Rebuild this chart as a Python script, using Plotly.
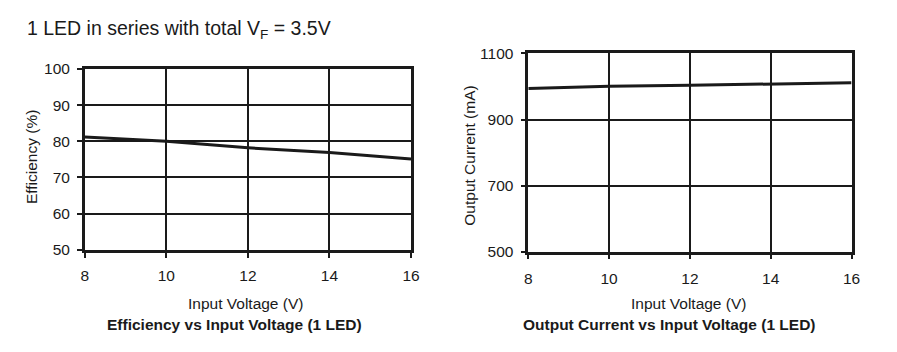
import plotly.graph_objects as go

voltage = [8, 10, 12, 14, 16]
efficiency = [81.2, 80.0, 78.2, 76.9, 75.1]
current = [994, 1001, 1004, 1007, 1011]

W, H = 897, 352
FONT = "Liberation Sans, Arial, sans-serif"
INK = "#1a1a1a"

def px(x):
    return x / W

def py(y):
    return 1 - y / H

fig = go.Figure()
fig.add_trace(go.Scatter(x=voltage, y=efficiency, mode="lines",
                         line=dict(color=INK, width=3), xaxis="x", yaxis="y",
                         showlegend=False, hoverinfo="skip"))
fig.add_trace(go.Scatter(x=voltage, y=current, mode="lines",
                         line=dict(color=INK, width=3), xaxis="x2", yaxis="y2",
                         showlegend=False, hoverinfo="skip"))

common = dict(showline=True, linecolor=INK, linewidth=2.5, mirror=True,
              showgrid=True, gridcolor=INK, ticks="outside", ticklen=5,
              tickwidth=1.5, tickcolor=INK, zeroline=False,
              tickfont=dict(family=FONT, size=15.5, color=INK))

fig.update_layout(
    width=W, height=H,
    margin=dict(l=0, r=0, t=0, b=0),
    paper_bgcolor="white", plot_bgcolor="white",
    xaxis=dict(domain=[px(82), px(413)], range=[8, 16], tickvals=voltage,
               anchor="y", gridwidth=2, ticklabelstandoff=5, **common),
    yaxis=dict(domain=[py(253), py(63)], range=[50, 100],
               tickvals=[50, 60, 70, 80, 90, 100], anchor="x", gridwidth=2,
               ticklabelstandoff=4, **common),
    xaxis2=dict(domain=[px(532), px(860)], range=[8, 16], tickvals=voltage,
                anchor="y2", gridwidth=1.7, ticklabelstandoff=6, **common),
    yaxis2=dict(domain=[py(255), py(46.7)], range=[500, 1100],
                tickvals=[500, 700, 900, 1100], anchor="x2", gridwidth=1.7,
                ticklabelstandoff=4, **common),
)

def note(text, x, y, size=15.5, angle=0, bold=False, xanchor="center"):
    fig.add_annotation(text=f"<b>{text}</b>" if bold else text,
                       x=px(x), y=py(y), xref="paper", yref="paper",
                       xanchor=xanchor, yanchor="middle", showarrow=False,
                       textangle=angle,
                       font=dict(family=FONT, size=size, color=INK))

note("1 LED in series with total V<sub>F</sub> = 3.5V", 21, 22, size=19.5, xanchor="left")
note("Efficiency (%)", 28, 156, angle=-90)
note("Output Current (mA)", 472, 154, angle=-90)
note("Input Voltage (V)", 245, 309)
note("Input Voltage (V)", 695, 309)
note("Efficiency vs Input Voltage (1 LED)", 234, 331, bold=True)
note("Output Current vs Input Voltage (1 LED)", 675, 331, bold=True)

fig.write_html("out.html")
